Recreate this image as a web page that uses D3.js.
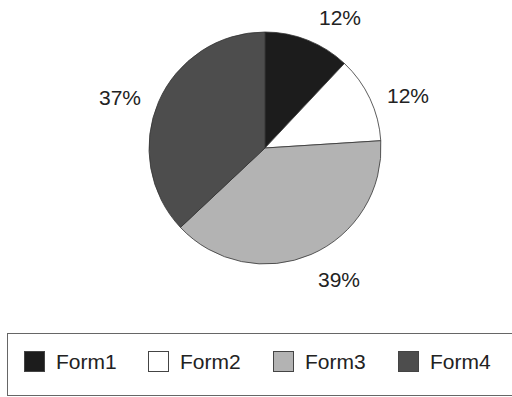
<!DOCTYPE html>
<html>
<head>
<meta charset="utf-8">
<script src="https://cdn.jsdelivr.net/npm/d3@7"></script>
<style>
  body { margin: 0; background: #fff; }
  #chart { width: 512px; height: 397px; }
  text { font-family: Arial, "Liberation Sans", sans-serif; fill: #222; }
</style>
</head>
<body>
<div id="chart"></div>
<script>
var categories = ["Form1", "Form2", "Form3", "Form4"];
var values = [12, 12, 39, 37];
var labels = ["12%", "12%", "39%", "37%"];
var colors = ["#1c1c1c", "#ffffff", "#b3b3b3", "#4d4d4d"];

var width = 512, height = 397;
var cx = 265, cy = 148, radius = 116;

// where the percent labels sit (centre x, baseline y)
var labelPos = [[340, 25], [408, 103], [339, 287], [120, 105]];

var svg = d3.select("#chart")
    .append("svg")
    .attr("width", width)
    .attr("height", height);

var pie = d3.pie().sort(null).value(function(d) { return d; });
var arc = d3.arc().innerRadius(0).outerRadius(radius);

var g = svg.append("g")
    .attr("transform", "translate(" + cx + "," + cy + ")");

g.selectAll("path")
    .data(pie(values))
    .enter()
    .append("path")
        .attr("d", arc)
        .attr("fill", function(d, i) { return colors[i]; })
        .attr("stroke", "#333")
        .attr("stroke-width", 0.8);

svg.selectAll(".pct")
    .data(labels)
    .enter()
    .append("text")
        .attr("class", "pct")
        .attr("x", function(d, i) { return labelPos[i][0]; })
        .attr("y", function(d, i) { return labelPos[i][1]; })
        .attr("text-anchor", "middle")
        .attr("font-size", "21px")
        .text(function(d) { return d; });

// legend
svg.append("rect")
    .attr("x", 7.5)
    .attr("y", 333.5)
    .attr("width", 510)
    .attr("height", 62)
    .attr("fill", "none")
    .attr("stroke", "#666")
    .attr("stroke-width", 1);

var legendX = d3.scaleOrdinal()
    .domain(categories)
    .range([24, 148, 273, 398]);

var item = svg.selectAll(".legend")
    .data(categories)
    .enter()
    .append("g")
    .attr("class", "legend")
    .attr("transform", function(d) { return "translate(" + legendX(d) + ",351)"; });

item.append("rect")
    .attr("x", 0.5)
    .attr("y", 0.5)
    .attr("width", 20)
    .attr("height", 20)
    .attr("fill", function(d, i) { return colors[i]; })
    .attr("stroke", "#444")
    .attr("stroke-width", 1);

item.append("text")
    .attr("x", 32)
    .attr("y", 18)
    .attr("font-size", "21px")
    .text(function(d) { return d; });
</script>
</body>
</html>
